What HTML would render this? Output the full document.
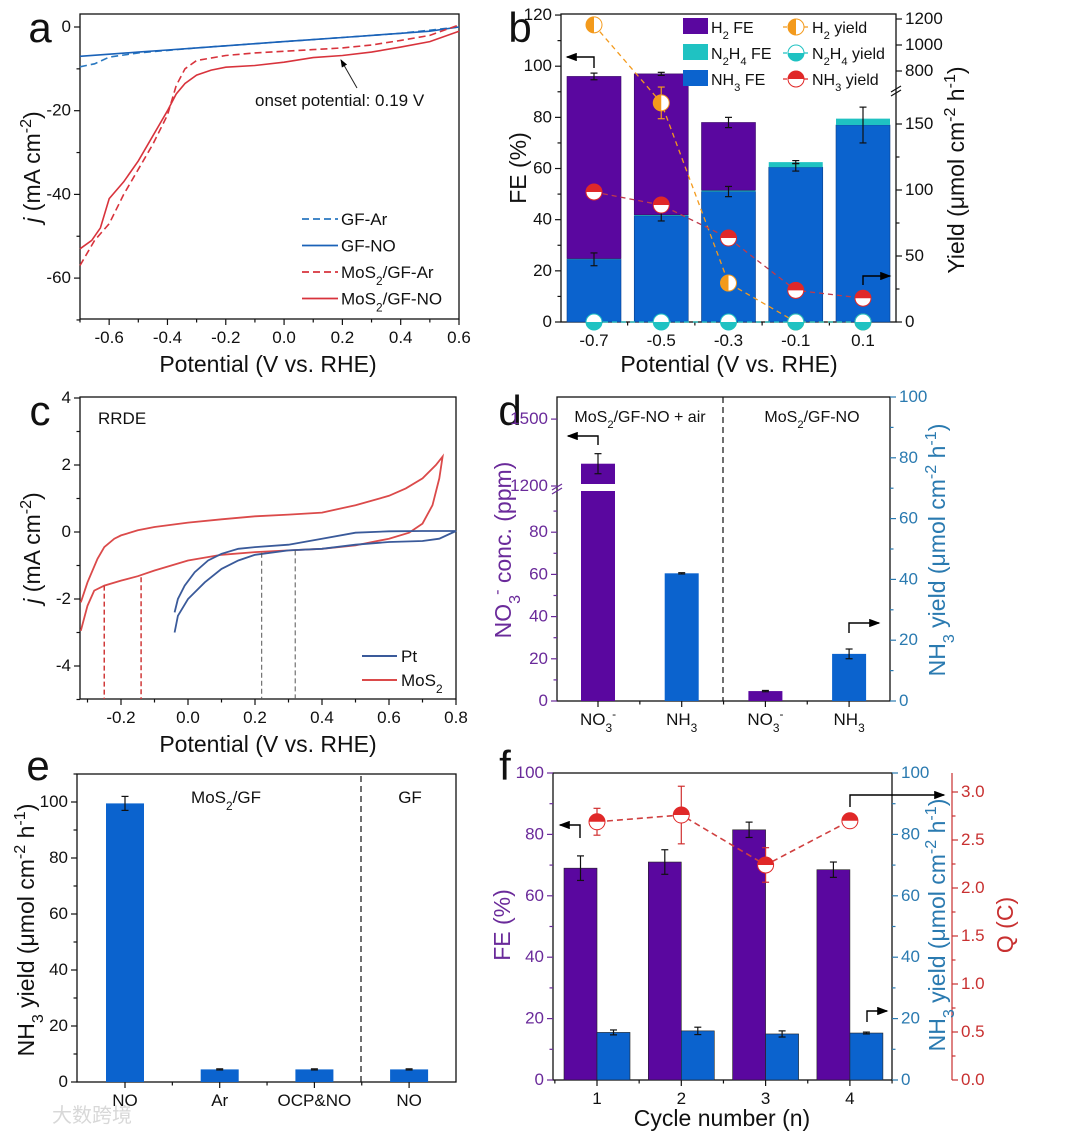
<!DOCTYPE html>
<html><head><meta charset="utf-8"><style>
html,body{margin:0;padding:0;background:#fff}
svg{display:block;font-family:"Liberation Sans","Noto Sans CJK SC",sans-serif}
</style></head><body>
<svg id="fig" width="1080" height="1137" viewBox="0 0 1080 1137" xmlns="http://www.w3.org/2000/svg">
<defs><marker id="ah" markerWidth="8" markerHeight="6" refX="7" refY="3" orient="auto"><path d="M0,0 L8,3 L0,6 Z" fill="#000"/></marker></defs>
</svg>
<script>
// ---------- DATA ----------
// panel a
const aGFNOx=[-0.7,-0.6,-0.5,-0.4,-0.3,-0.2,-0.1,0,0.1,0.2,0.3,0.4,0.5,0.6];
const aGFNOy=[-7,-6.5,-6,-5.5,-5,-4.5,-4,-3.5,-3,-2.5,-2,-1.5,-1,0];
const aGFArx=[-0.7,-0.65,-0.6,-0.5,-0.4,-0.3,-0.2,0,0.2,0.4,0.6];
const aGFAry=[-9.5,-8.8,-7.2,-6.2,-5.6,-5,-4.5,-3.5,-2.5,-1.5,0];
const aMoArx=[-0.7,-0.65,-0.6,-0.55,-0.5,-0.45,-0.4,-0.37,-0.34,-0.3,-0.2,-0.1,0,0.1,0.2,0.3,0.4,0.5,0.6];
const aMoAry=[-57,-51,-47,-40,-34,-28,-21,-14,-10,-8,-6.8,-6.2,-5.8,-5.4,-5,-4.3,-3.2,-2,0.5];
const aMoNOx=[-0.7,-0.66,-0.63,-0.6,-0.55,-0.5,-0.45,-0.4,-0.37,-0.34,-0.3,-0.25,-0.2,-0.1,0,0.1,0.2,0.3,0.4,0.5,0.6];
const aMoNOy=[-53,-51,-48,-41,-37,-32,-26,-20,-16,-13.5,-11.5,-10.3,-9.6,-9.2,-8.4,-7.3,-6.8,-6,-4.8,-3.5,-1];
// panel b
const bCats=["-0.7","-0.5","-0.3","-0.1","0.1"];
const bNH3FE=[24.5,41.5,51,60.5,77];
const bNH3Err=[2.5,2,2,1.5,7];
const bN2H4FE=[0.3,0.4,0.5,2,2.5];
const bH2FE=[71.2,55.1,26.5,0,0];
const bTotErr=[1.3,0.6,2,0.6,0];
const bH2Yield=[1155,166,29.5,0,0];
const bH2YErr=[0,12,0,0,0];
const bNH3Yield=[98.5,88.6,63.6,24,18];
const bN2H4Yield=[0,0,0,0,0];
// panel c
const cMoX=[-0.32,-0.3,-0.27,-0.25,-0.22,-0.2,-0.15,-0.1,0,0.1,0.2,0.3,0.4,0.5,0.6,0.65,0.7,0.74,0.76,0.75,0.73,0.7,0.66,0.6,0.5,0.4,0.3,0.2,0.1,0,-0.05,-0.1,-0.15,-0.2,-0.25,-0.28,-0.3,-0.32];
const cMoY=[-2.1,-1.5,-0.8,-0.45,-0.2,-0.1,0.05,0.15,0.28,0.38,0.47,0.52,0.58,0.8,1.08,1.3,1.6,2,2.25,1.6,0.8,0.25,-0.02,-0.2,-0.4,-0.5,-0.55,-0.6,-0.68,-0.85,-1.0,-1.15,-1.32,-1.45,-1.6,-1.75,-2.2,-2.95];
const cPtX=[-0.04,-0.03,0,0.05,0.1,0.15,0.2,0.3,0.4,0.5,0.6,0.7,0.75,0.8,0.7,0.6,0.5,0.4,0.3,0.2,0.15,0.1,0.06,0.02,-0.01,-0.03,-0.04];
const cPtY=[-3,-2.5,-2.0,-1.5,-1.1,-0.85,-0.68,-0.55,-0.5,-0.38,-0.3,-0.27,-0.2,0.03,0.03,0.02,-0.02,-0.2,-0.38,-0.45,-0.5,-0.65,-0.85,-1.2,-1.6,-2.0,-2.4];
const cRedV=[-0.25,-0.14];
const cRedVy=[-1.6,-1.35];
const cGreyV=[0.22,0.32];
const cGreyVy=[-0.62,-0.55];
// panel d
const dCats=["NO3-","NH3","NO3-","NH3"];
const dNO3=[1300,null,4.7,null];
const dNO3Err=[45,0,0.3,0];
const dNH3=[null,42,null,15.5];
const dNH3Err=[0,0.2,0,1.6];
// panel e
const eCats=["NO","Ar","OCP&NO","NO"];
const eVals=[99.5,4.5,4.5,4.5];
const eErr=[2.5,0.2,0.2,0.2];
// panel f
const fCats=["1","2","3","4"];
const fFE=[69,71,81.5,68.5];
const fFEErr=[4,4,2.5,2.5];
const fNH3=[15.5,16,15,15.3];
const fNH3Err=[0.8,1.2,1,0.3];
const fQ=[2.69,2.76,2.24,2.7];
const fQErr=[0.14,0.3,0.18,0.05];

// ---------- HELPERS ----------
const svg=document.getElementById('fig');
const NS='http://www.w3.org/2000/svg';
const PUR='#5a079f',BLU='#0b63ce',TEAL='#1fc2c2',RED='#e02828',ORA='#f39a1c';
function mk(tag,attrs,name,parent){
  const e=document.createElementNS(NS,tag);
  for(const k in attrs)e.setAttribute(k,attrs[k]);
  
  
  (parent||svg).appendChild(e);return e;
}
function T(x,y,html,name,o){o=o||{};
  const a={x:x,y:y,'font-size':o.s||16,'text-anchor':o.a||'middle',fill:o.c||'#111'};
  if(o.r)a.transform='rotate('+o.r+' '+x+' '+y+')';
  if(o.it)a['font-style']='italic';
  const e=mk('text',a,name);e.innerHTML=html;return e;}
const sub=s=>'<tspan baseline-shift="sub" font-size="70%">'+s+'</tspan>';
const sup=s=>'<tspan baseline-shift="super" font-size="70%">'+s+'</tspan>';
function L(x1,y1,x2,y2,name,o){o=o||{};return mk('line',{x1:x1,y1:y1,x2:x2,y2:y2,stroke:o.c||'#111','stroke-width':o.w||1.2,'stroke-dasharray':o.d||'none'},name);}
function box(x1,y1,x2,y2,name){mk('rect',{x:x1,y:y1,width:x2-x1,height:y2-y1,fill:'none',stroke:'#111','stroke-width':1.3},name);}
function poly(xs,ys,sx,sy,name,o){const d=xs.map((v,i)=>(i?'L':'M')+sx(v).toFixed(1)+','+sy(ys[i]).toFixed(1)).join(' ');
  return mk('path',{d:d,fill:'none',stroke:o.c,'stroke-width':o.w||1.6,'stroke-dasharray':o.d||'none'},name);}
function yTicks(x,vals,sy,lab,name,o){o=o||{};const side=o.right?1:-1;
  vals.forEach(v=>{const y=sy(v);L(x,y,x+side*6,y,name+'-tick',{c:o.c});
    if(lab)T(x+side*9,y+5,lab(v),name+'-label',{a:o.right?'start':'end',s:o.s||17,c:o.c||'#111'});});}
function minorY(x,vals,sy,name,o){o=o||{};const side=o.right?1:-1;vals.forEach(v=>L(x,sy(v),x+side*3.5,sy(v),name+'-minor',{c:o.c}));}
function xTicks(y,xs,labs,name,o){o=o||{};xs.forEach((x,i)=>{L(x,y,x,y+6,name+'-tick');if(labs)T(x,y+24,labs[i],name+'-label',{s:o.s||17});});}
function errBar(x,y1,y2,name,c){L(x,y1,x,y2,name,{c:c||'#111'});L(x-3.5,y1,x+3.5,y1,name+'-cap',{c:c||'#111'});L(x-3.5,y2,x+3.5,y2,name+'-cap',{c:c||'#111'});}
function halfMark(cx,cy,color,half,name){const r=8;
  mk('circle',{cx:cx,cy:cy,r:r,fill:'#fff',stroke:color,'stroke-width':1},name);
  let d;if(half==='top')d=`M${cx-r},${cy} A${r},${r} 0 0 1 ${cx+r},${cy} Z`;
  else if(half==='bottom')d=`M${cx-r},${cy} A${r},${r} 0 0 0 ${cx+r},${cy} Z`;
  else d=`M${cx},${cy-r} A${r},${r} 0 0 0 ${cx},${cy+r} Z`;
  mk('path',{d:d,fill:color},name+'-fill');}
function arrow(pts,name){mk('polyline',{points:pts,fill:'none',stroke:'#000','stroke-width':1.4,'marker-end':'url(#ah)'},name);}
function rng(a,b,s){const r=[];for(let v=a;v<=b+1e-9;v+=s)r.push(+v.toFixed(4));return r;}

// ---------- PANEL A ----------
const xa=v=>80+(v+0.7)/1.3*379, ya=v=>27-v*4.185;
box(80,14,459,319,'panel-a-frame');
T(40,42,'a','panel-a-letter',{s:42});
yTicks(80,[0,-20,-40,-60],ya,v=>v,'a-y');minorY(80,[-10,-30,-50,-70],ya,'a-y');
xTicks(319,rng(-0.6,0.6,0.2).map(xa),rng(-0.6,0.6,0.2).map(v=>v.toFixed(1)),'a-x');
rng(-0.7,0.5,0.2).forEach(v=>L(xa(v),319,xa(v),322.5,'a-x-minor'));
T(268,372,'Potential (V vs. RHE)','a-x-title',{s:23});
T(40,167,'<tspan font-style="italic">j</tspan> (mA cm'+sup('-2')+')','a-y-title',{s:23,r:-90});
poly(aGFArx,aGFAry,xa,ya,'gf-ar-line',{c:'#2a78c0',d:'7,4'});
poly(aGFNOx,aGFNOy,xa,ya,'gf-no-line',{c:'#1a62b8'});
poly(aMoArx,aMoAry,xa,ya,'mos2-gf-ar-line',{c:'#d8333c',d:'7,4'});
poly(aMoNOx,aMoNOy,xa,ya,'mos2-gf-no-line',{c:'#d8333c'});
mk('line',{x1:357,y1:88,x2:341,y2:60,stroke:'#222','stroke-width':1,'marker-end':'url(#ah)'},'onset-arrow');
T(255,106,'onset potential: 0.19 V','onset-annotation',{s:17,a:'start'});
[['GF-Ar','#2a78c0','7,4'],['GF-NO','#1a62b8','none'],['MoS'+sub('2')+'/GF-Ar','#d8333c','7,4'],['MoS'+sub('2')+'/GF-NO','#d8333c','none']].forEach((e,i)=>{
  const y=219+i*26.5;L(302,y,338,y,'a-legend-line',{c:e[1],d:e[2],w:1.8});T(341,y+6,e[0],'a-legend-entry',{s:17,a:'start'});});

// ---------- PANEL B ----------
const xb=i=>594+i*67.25, yb=v=>322-v*2.558;
const yr=v=>v<=180?322-v*1.32:71-(v-800)*0.13;
box(561,14,896,322,'panel-b-frame');
T(520,42,'b','panel-b-letter',{s:42});
yTicks(561,rng(0,120,20),yb,v=>v,'b-y');minorY(561,rng(10,110,20),yb,'b-y');
yTicks(896,[0,50,100,150],yr,v=>v,'b-yr',{right:true});minorY(896,[25,75,125],yr,'b-yr',{right:true});
yTicks(896,[800,1000,1200],yr,v=>v,'b-yr',{right:true});
L(891,92,901,86,'b-break',{w:1.2});L(891,96,901,90,'b-break',{w:1.2});
xTicks(322,bCats.map((c,i)=>xb(i)),bCats,'b-x');
bCats.forEach((c,i)=>{if(i<4)L(xb(i+0.5),322,xb(i+0.5),325.5,'b-x-minor');});
T(729,372,'Potential (V vs. RHE)','b-x-title',{s:23});
T(526,168,'FE (%)','b-y-title',{s:23,r:-90});
T(964,170,'Yield (μmol cm'+sup('-2')+' h'+sup('-1')+')','b-yr-title',{s:23,r:-90});
const bw=27;
bCats.forEach((c,i)=>{const x=xb(i);
  mk('rect',{x:x-bw,y:yb(bNH3FE[i]),width:2*bw,height:yb(0)-yb(bNH3FE[i]),fill:BLU,stroke:'#0a3f8a','stroke-width':0.6},'nh3-fe-bar');
  mk('rect',{x:x-bw,y:yb(bNH3FE[i]+bN2H4FE[i]),width:2*bw,height:yb(0)-yb(bN2H4FE[i]),fill:TEAL},'n2h4-fe-bar');
  if(bH2FE[i]>0)mk('rect',{x:x-bw,y:yb(bNH3FE[i]+bN2H4FE[i]+bH2FE[i]),width:2*bw,height:yb(0)-yb(bH2FE[i]),fill:PUR,stroke:'#3a0a66','stroke-width':0.6},'h2-fe-bar');
  errBar(x,yb(bNH3FE[i]-bNH3Err[i]),yb(bNH3FE[i]+bNH3Err[i]),'nh3-fe-error');
  const tot=bNH3FE[i]+bN2H4FE[i]+bH2FE[i];
  if(bTotErr[i]>0)errBar(x,yb(tot-bTotErr[i]),yb(tot+bTotErr[i]),'total-fe-error');});
poly(bCats.map((c,i)=>i),bH2Yield,xb,yr,'h2-yield-line',{c:ORA,d:'5,4',w:1.3});
poly(bCats.map((c,i)=>i),bNH3Yield,xb,yr,'nh3-yield-line',{c:'#c03a4a',d:'5,4',w:1.3});
poly(bCats.map((c,i)=>i),bN2H4Yield,xb,yr,'n2h4-yield-line',{c:TEAL,d:'5,4',w:1.3});
bCats.forEach((c,i)=>{const x=xb(i);
  if(bH2YErr[i])errBar(x,yr(bH2Yield[i]-bH2YErr[i]),yr(bH2Yield[i]+bH2YErr[i]),'h2-yield-error',ORA);
  halfMark(x,yr(bH2Yield[i]),ORA,'left','h2-yield-marker');
  halfMark(x,yr(bNH3Yield[i]),RED,'top','nh3-yield-marker');
  halfMark(x,yr(bN2H4Yield[i]),TEAL,'bottom','n2h4-yield-marker');});
arrow('594,68 594,57 567,57','b-left-arrow');arrow('863,285 863,276 890,276','b-right-arrow');
[['H'+sub('2')+' FE',PUR],['N'+sub('2')+'H'+sub('4')+' FE',TEAL],['NH'+sub('3')+' FE',BLU]].forEach((e,i)=>{
  const y=27+i*26;mk('rect',{x:683,y:y-9,width:25,height:16,fill:e[1]},'b-legend-swatch');T(711,y+6,e[0],'b-legend-entry',{s:16,a:'start'});});
[['H'+sub('2')+' yield',ORA,'left'],['N'+sub('2')+'H'+sub('4')+' yield',TEAL,'bottom'],['NH'+sub('3')+' yield',RED,'top']].forEach((e,i)=>{
  const y=27+i*26;L(783,y,809,y,'b-legend-line',{c:e[1],d:'4,3'});halfMark(796,y,e[1],e[2],'b-legend-marker');T(812,y+6,e[0],'b-legend-entry',{s:16,a:'start'});});

// ---------- PANEL C ----------
const xc=v=>121+(v+0.2)*335, yc=v=>532-v*33.5;
box(80,397,456,699,'panel-c-frame');
T(40,425,'c','panel-c-letter',{s:42});
yTicks(80,rng(-4,4,2),yc,v=>v,'c-y');minorY(80,[-5,-3,-1,1,3],yc,'c-y');
xTicks(699,rng(-0.2,0.8,0.2).map(xc),rng(-0.2,0.8,0.2).map(v=>v.toFixed(1)),'c-x');
rng(-0.3,0.7,0.2).forEach(v=>L(xc(v),699,xc(v),702.5,'c-x-minor'));
T(268,752,'Potential (V vs. RHE)','c-x-title',{s:23});
T(40,548,'<tspan font-style="italic">j</tspan> (mA cm'+sup('-2')+')','c-y-title',{s:23,r:-90});
T(98,424,'RRDE','rrde-label',{s:17,a:'start'});
poly(cMoX,cMoY,xc,yc,'mos2-cv-line',{c:'#db4a4a',w:1.8});
poly(cPtX,cPtY,xc,yc,'pt-cv-line',{c:'#3a5a9a',w:1.8});
cRedV.forEach((v,i)=>L(xc(v),yc(cRedVy[i]),xc(v),699,'mos2-onset-dashed',{c:'#d03a3a',d:'5,3',w:1.5}));
cGreyV.forEach((v,i)=>L(xc(v),yc(cGreyVy[i]),xc(v),699,'pt-onset-dashed',{c:'#555',d:'5,3',w:1}));
L(362,656,397,656,'c-legend-line',{c:'#3a5a9a',w:2});T(401,662,'Pt','c-legend-entry',{s:17,a:'start'});
L(362,680,397,680,'c-legend-line',{c:'#db4a4a',w:2});T(401,686,'MoS'+sub('2'),'c-legend-entry',{s:17,a:'start'});

// ---------- PANEL D ----------
const xd=i=>598+i*83.7;
const ydl=v=>v<=110?701-v*2.11:486-(v-1200)*0.223;
const ydr=v=>701-v*3.04;
box(557,397,890,701,'panel-d-frame');
T(510,425,'d','panel-d-letter',{s:42});
yTicks(557,[0,20,40,60,80],ydl,v=>v,'d-y',{c:'#6a2a9a'});minorY(557,[10,30,50,70,90],ydl,'d-y',{c:'#6a2a9a'});
yTicks(557,[1200,1500],ydl,v=>v,'d-y',{c:'#6a2a9a'});
L(552,490,562,484,'d-break',{c:'#6a2a9a'});L(552,494,562,488,'d-break',{c:'#6a2a9a'});
yTicks(890,rng(0,100,20),ydr,v=>v,'d-yr',{right:true,c:'#2a7ab0'});minorY(890,rng(10,90,20),ydr,'d-yr',{right:true,c:'#2a7ab0'});
const dLabs=['NO'+sub('3')+sup('-'),'NH'+sub('3'),'NO'+sub('3')+sup('-'),'NH'+sub('3')];
xTicks(701,dCats.map((c,i)=>xd(i)),dLabs,'d-x');
[0.5,1.5,2.5].forEach(i=>L(xd(i),701,xd(i),704.5,'d-x-minor'));
T(511,550,'NO'+sub('3')+sup('-')+' conc. (ppm)','d-y-title',{s:23,r:-90,c:'#6a2a9a'});
T(945,550,'NH'+sub('3')+' yield (μmol cm'+sup('-2')+' h'+sup('-1')+')','d-yr-title',{s:23,r:-90,c:'#2a7ab0'});
L(723,397,723,701,'d-divider',{d:'6,4'});
T(640,422,'MoS'+sub('2')+'/GF-NO + air','d-group-label',{s:16});
T(812,422,'MoS'+sub('2')+'/GF-NO','d-group-label',{s:16});
const dw=17;
dCats.forEach((c,i)=>{const x=xd(i);
  if(dNO3[i]!==null){const v=dNO3[i];
    if(v>110){mk('rect',{x:x-dw,y:ydl(v),width:2*dw,height:484-ydl(v),fill:PUR},'no3-bar');
      mk('rect',{x:x-dw,y:491,width:2*dw,height:701-491,fill:PUR},'no3-bar');}
    else mk('rect',{x:x-dw,y:ydl(v),width:2*dw,height:701-ydl(v),fill:PUR},'no3-bar');
    errBar(x,ydl(v-dNO3Err[i]),ydl(v+dNO3Err[i]),'no3-error');}
  if(dNH3[i]!==null){const v=dNH3[i];
    mk('rect',{x:x-dw,y:ydr(v),width:2*dw,height:701-ydr(v),fill:BLU},'nh3-bar');
    errBar(x,ydr(v-dNH3Err[i]),ydr(v+dNH3Err[i]),'nh3-error');}});
arrow('598,445 598,436 568,436','d-left-arrow');arrow('849,633 849,623 879,623','d-right-arrow');

// ---------- PANEL E ----------
const xe=i=>125+i*94.7, ye=v=>1082-v*2.8;
box(77,774,456,1082,'panel-e-frame');
T(38,780,'e','panel-e-letter',{s:42});
yTicks(77,rng(0,100,20),ye,v=>v,'e-y');minorY(77,rng(10,110,20),ye,'e-y');
xTicks(1082,eCats.map((c,i)=>xe(i)),eCats.map(c=>c.replace('&','&amp;')),'e-x');
[0.5,1.5,2.5].forEach(i=>L(xe(i),1082,xe(i),1085.5,'e-x-minor'));
T(34,930,'NH'+sub('3')+' yield (μmol cm'+sup('-2')+' h'+sup('-1')+')','e-y-title',{s:23,r:-90});
L(361,776,361,1082,'e-divider',{d:'6,4'});
T(226,803,'MoS'+sub('2')+'/GF','e-group-label',{s:17});T(410,803,'GF','e-group-label',{s:17});
eCats.forEach((c,i)=>{const x=xe(i);
  mk('rect',{x:x-19,y:ye(eVals[i]),width:38,height:1082-ye(eVals[i]),fill:BLU},'e-nh3-bar');
  errBar(x,ye(eVals[i]-eErr[i]),ye(eVals[i]+eErr[i]),'e-nh3-error');});
T(52,1122,'大数跨境','watermark',{s:20,a:'start',c:'#d8d8d8'});

// ---------- PANEL F ----------
const xf=i=>597+i*84.3, yf=v=>1080-v*3.07, yq=v=>1080-v*96;
box(553,773,892,1080,'panel-f-frame');
T(505,780,'f','panel-f-letter',{s:42});
yTicks(553,rng(0,100,20),yf,v=>v,'f-y',{c:'#6a2a9a'});minorY(553,rng(10,90,20),yf,'f-y',{c:'#6a2a9a'});
yTicks(892,rng(0,100,20),yf,v=>v,'f-yr',{right:true,c:'#2a7ab0'});minorY(892,rng(10,90,20),yf,'f-yr',{right:true,c:'#2a7ab0'});
L(952,773,952,1080,'f-q-axis',{c:'#c83030'});
yTicks(952,rng(0,3,0.5),yq,v=>v.toFixed(1),'f-q',{right:true,c:'#c83030'});minorY(952,rng(0.25,3,0.5),yq,'f-q',{right:true,c:'#c83030'});
xTicks(1080,fCats.map((c,i)=>xf(i)),fCats,'f-x');
[-0.5,0.5,1.5,2.5,3.5].forEach(i=>L(xf(i),1080,xf(i),1083.5,'f-x-minor'));
T(722,1126,'Cycle number (n)','f-x-title',{s:23});
T(510,925,'FE (%)','f-y-title',{s:23,r:-90,c:'#6a2a9a'});
T(945,925,'NH'+sub('3')+' yield (μmol cm'+sup('-2')+' h'+sup('-1')+')','f-yr-title',{s:23,r:-90,c:'#2a7ab0'});
T(1013,925,'Q (C)','f-q-title',{s:23,r:-90,c:'#c83030'});
fCats.forEach((c,i)=>{const x=xf(i);
  mk('rect',{x:x-33,y:yf(fFE[i]),width:33,height:1080-yf(fFE[i]),fill:PUR,stroke:'#222','stroke-width':0.6},'f-fe-bar');
  errBar(x-16.5,yf(fFE[i]-fFEErr[i]),yf(fFE[i]+fFEErr[i]),'f-fe-error');
  mk('rect',{x:x,y:yf(fNH3[i]),width:33,height:1080-yf(fNH3[i]),fill:BLU,stroke:'#222','stroke-width':0.6},'f-nh3-bar');
  errBar(x+16.5,yf(fNH3[i]-fNH3Err[i]),yf(fNH3[i]+fNH3Err[i]),'f-nh3-error');});
poly(fCats.map((c,i)=>i),fQ,xf,yq,'f-q-line',{c:'#d04040',d:'6,4',w:1.6});
fCats.forEach((c,i)=>{const x=xf(i);
  errBar(x,yq(fQ[i]-fQErr[i]),yq(fQ[i]+fQErr[i]),'f-q-error','#d03030');
  halfMark(x,yq(fQ[i]),RED,'top','f-q-marker');});
arrow('580,838 580,825 560,825','f-left-arrow');arrow('867,1022 867,1011 887,1011','f-yr-arrow');
arrow('850,807 850,795 944,795','f-q-arrow');
</script>
</body></html>
